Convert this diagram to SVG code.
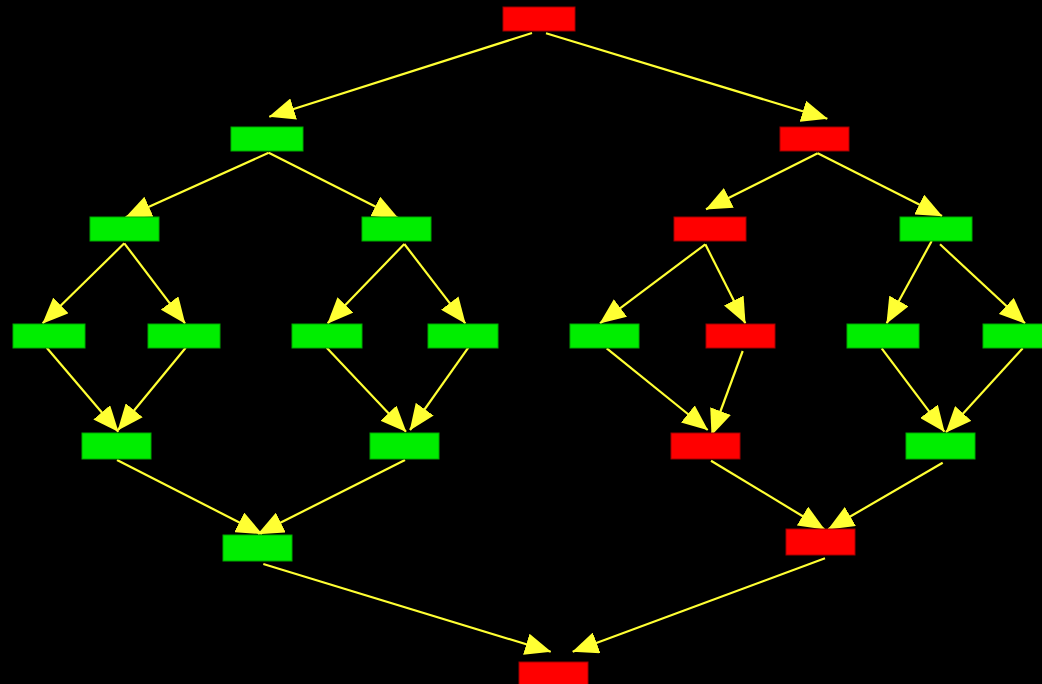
<svg xmlns="http://www.w3.org/2000/svg" width="1042" height="684" viewBox="0 0 1042 684">
<style>
.bg{fill:#000000}
.g{fill:#00ee00;stroke:#00a800;stroke-width:1}
.r{fill:#ff0000;stroke:#a00000;stroke-width:1}
.e{stroke:#ffff33;stroke-width:2.2;fill:none;marker-end:url(#ah)}
</style>
<defs>
<marker id="ah" markerUnits="userSpaceOnUse" viewBox="0 0 26 22" markerWidth="26" markerHeight="22" refX="25.5" refY="11" orient="auto">
<path d="M0,0 L26,11 L0,22 Z" fill="#ffff33"/>
</marker>
</defs>
<rect class="bg" x="0" y="0" width="1042" height="684"/>
<g id="connectors">
<line class="e" x1="532" y1="33" x2="269.3" y2="116.7"/>
<line class="e" x1="546" y1="33.3" x2="827.3" y2="118.7"/>
<line class="e" x1="268.7" y1="152.7" x2="125.7" y2="217.3"/>
<line class="e" x1="268.7" y1="152.7" x2="398" y2="218"/>
<line class="e" x1="817.7" y1="153.3" x2="706" y2="209.3"/>
<line class="e" x1="817.7" y1="153.3" x2="942" y2="216"/>
<line class="e" x1="124.3" y1="243.3" x2="42.7" y2="323.3"/>
<line class="e" x1="124.3" y1="243.3" x2="185" y2="323.3"/>
<line class="e" x1="404.3" y1="244" x2="327.7" y2="323.3"/>
<line class="e" x1="404.3" y1="244" x2="465.3" y2="323.3"/>
<line class="e" x1="705.3" y1="244.3" x2="600" y2="323.3"/>
<line class="e" x1="705.3" y1="244.3" x2="745.3" y2="323.3"/>
<line class="e" x1="931.7" y1="241" x2="886.7" y2="323.3"/>
<line class="e" x1="940" y1="244.3" x2="1025" y2="323.3"/>
<line class="e" x1="46.7" y1="347.7" x2="118.3" y2="431.7"/>
<line class="e" x1="185.7" y1="347.7" x2="118" y2="430"/>
<line class="e" x1="326.7" y1="347.7" x2="406" y2="431.7"/>
<line class="e" x1="468.3" y1="347.7" x2="410" y2="430"/>
<line class="e" x1="606.7" y1="348.3" x2="707.7" y2="430"/>
<line class="e" x1="742.7" y1="351" x2="711.7" y2="435"/>
<line class="e" x1="881.7" y1="348.3" x2="944.3" y2="431.7"/>
<line class="e" x1="1022.7" y1="348.3" x2="946" y2="432.3"/>
<line class="e" x1="117" y1="460" x2="262" y2="534"/>
<line class="e" x1="405" y1="460" x2="258" y2="534"/>
<line class="e" x1="711" y1="460.7" x2="824.3" y2="529.3"/>
<line class="e" x1="942.7" y1="462.7" x2="828.3" y2="529.3"/>
<line class="e" x1="263.3" y1="564" x2="550.7" y2="651.7"/>
<line class="e" x1="825" y1="558.3" x2="572.7" y2="651.7"/>
</g>
<g id="n0"><rect class="r" x="503" y="7" width="72" height="24"/></g>
<g id="n1"><rect class="g" x="231" y="127" width="72" height="24"/></g>
<g id="n2"><rect class="r" x="780" y="127" width="69" height="24"/></g>
<g id="n3"><rect class="g" x="90" y="217" width="69" height="24"/></g>
<g id="n4"><rect class="g" x="362" y="217" width="69" height="24"/></g>
<g id="n5"><rect class="r" x="674" y="217" width="72" height="24"/></g>
<g id="n6"><rect class="g" x="900" y="217" width="72" height="24"/></g>
<g id="n7"><rect class="g" x="13" y="324" width="72" height="24"/></g>
<g id="n8"><rect class="g" x="148" y="324" width="72" height="24"/></g>
<g id="n9"><rect class="g" x="292" y="324" width="70" height="24"/></g>
<g id="n10"><rect class="g" x="428" y="324" width="70" height="24"/></g>
<g id="n11"><rect class="g" x="570" y="324" width="69" height="24"/></g>
<g id="n12"><rect class="r" x="706" y="324" width="69" height="24"/></g>
<g id="n13"><rect class="g" x="847" y="324" width="72" height="24"/></g>
<g id="n14"><rect class="g" x="983" y="324" width="72" height="24"/></g>
<g id="n15"><rect class="g" x="82" y="433" width="69" height="26"/></g>
<g id="n16"><rect class="g" x="370" y="433" width="69" height="26"/></g>
<g id="n17"><rect class="r" x="671" y="433" width="69" height="26"/></g>
<g id="n18"><rect class="g" x="906" y="433" width="69" height="26"/></g>
<g id="n19"><rect class="g" x="223" y="535" width="69" height="26"/></g>
<g id="n20"><rect class="r" x="786" y="529" width="69" height="26"/></g>
<g id="n21"><rect class="r" x="519" y="662" width="69" height="26"/></g>
</svg>
